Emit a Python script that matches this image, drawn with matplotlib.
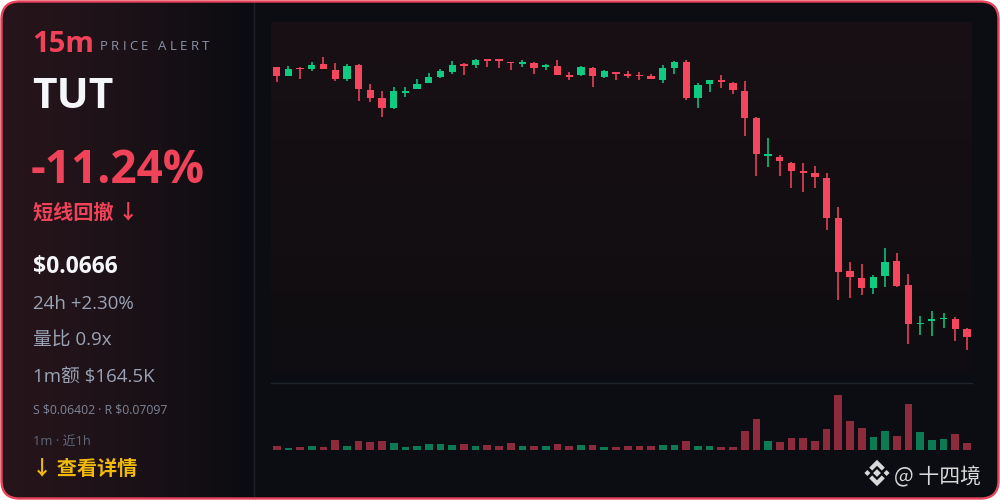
import numpy as np
import matplotlib
matplotlib.use("Agg")
import matplotlib.pyplot as plt
from matplotlib.patches import FancyBboxPatch, Polygon

# 1m candles, last hour (prices in USDT)
opens = [0.08007, 0.07964, 0.08002, 0.08000, 0.08022, 0.07994, 0.07947, 0.08017, 0.07894, 0.07852,
         0.07802, 0.07880, 0.07898, 0.07927, 0.07960, 0.07985, 0.08019, 0.08017, 0.08047, 0.08044,
         0.08032, 0.08024, 0.08030, 0.08008, 0.08014, 0.07965, 0.07969, 0.08005, 0.07960, 0.07985,
         0.07969, 0.07969, 0.07964, 0.07944, 0.08005, 0.08035, 0.07852, 0.07922, 0.07945, 0.07927,
         0.07890, 0.07752, 0.07564, 0.07560, 0.07530, 0.07488, 0.07480, 0.07455, 0.07252, 0.06989,
         0.06955, 0.06905, 0.06963, 0.07038, 0.06918, 0.06722, 0.06738, 0.06747, 0.06749, 0.06699]
highs = [0.08008, 0.08014, 0.08010, 0.08032, 0.08057, 0.08027, 0.08024, 0.08024, 0.07924, 0.07890,
         0.07907, 0.07907, 0.07947, 0.07977, 0.07999, 0.08039, 0.08030, 0.08047, 0.08047, 0.08047,
         0.08032, 0.08044, 0.08032, 0.08024, 0.08044, 0.07985, 0.08012, 0.08008, 0.07994, 0.07985,
         0.07989, 0.07985, 0.07975, 0.08019, 0.08039, 0.08045, 0.07928, 0.07944, 0.07969, 0.07932,
         0.07938, 0.07757, 0.07655, 0.07569, 0.07532, 0.07527, 0.07514, 0.07480, 0.07307, 0.07032,
         0.07024, 0.06969, 0.07104, 0.07080, 0.06973, 0.06765, 0.06789, 0.06779, 0.06757, 0.06705]
lows = [0.07932, 0.07961, 0.07947, 0.07987, 0.07996, 0.07940, 0.07940, 0.07840, 0.07832, 0.07760,
        0.07801, 0.07857, 0.07897, 0.07926, 0.07952, 0.07973, 0.07968, 0.08002, 0.08007, 0.08002,
        0.07994, 0.08007, 0.07972, 0.07994, 0.07967, 0.07944, 0.07965, 0.07910, 0.07955, 0.07944,
        0.07952, 0.07944, 0.07946, 0.07927, 0.07972, 0.07845, 0.07805, 0.07885, 0.07902, 0.07875,
        0.07665, 0.07465, 0.07510, 0.07465, 0.07405, 0.07382, 0.07405, 0.07194, 0.06844, 0.06852,
        0.06869, 0.06874, 0.06907, 0.06907, 0.06622, 0.06668, 0.06665, 0.06702, 0.06639, 0.06594]
closes = [0.07964, 0.07997, 0.07997, 0.08020, 0.07998, 0.07947, 0.08014, 0.07900, 0.07855, 0.07802,
          0.07890, 0.07885, 0.07923, 0.07957, 0.07990, 0.08019, 0.08014, 0.08044, 0.08040, 0.08039,
          0.08027, 0.08027, 0.08005, 0.08014, 0.07969, 0.07960, 0.08007, 0.07964, 0.07989, 0.07975,
          0.07964, 0.07962, 0.07947, 0.08005, 0.08032, 0.07852, 0.07918, 0.07942, 0.07935, 0.07894,
          0.07752, 0.07572, 0.07569, 0.07539, 0.07490, 0.07480, 0.07457, 0.07252, 0.06985, 0.06957,
          0.06905, 0.06960, 0.07035, 0.06913, 0.06722, 0.06730, 0.06747, 0.06754, 0.06697, 0.06660]
# quote volume per candle, $K
volumes = [94, 47, 71, 94, 71, 242, 87, 212, 181, 212,
           157, 78, 94, 141, 141, 118, 134, 94, 110, 87,
           157, 87, 94, 87, 148, 94, 118, 110, 71, 71,
           87, 87, 94, 118, 110, 212, 87, 94, 71, 63,
           454, 721, 212, 195, 289, 289, 204, 486, 1293, 682,
           510, 306, 447, 329, 1081, 423, 235, 251, 369, 165]

UP = "#0ecb81"
DOWN = "#f6465d"
VOL_UP = "#0c7a53"
VOL_DOWN = "#8d2b3c"
RED_TXT = "#f0435a"
GREY = "#9aa3b5"
FONTS = ["Open Sans", "Noto Sans CJK SC", "DejaVu Sans"]
CJK = ["Noto Sans CJK SC", "DejaVu Sans"]

fig = plt.figure(figsize=(10, 5), dpi=100, facecolor="white")
bg = fig.add_axes([0, 0, 1, 1])
bg.axis("off")

card = FancyBboxPatch((1.5, 1.5), 997, 497, boxstyle="round,pad=0,rounding_size=18",
                      fc="#0b0d12", ec="none", zorder=0)
bg.add_patch(card)

# left panel gradient (reddish -> dark)
tx = np.linspace(0, 1, 256) ** 1.4
c0 = np.array([38, 21, 27]) / 255
c1 = np.array([10, 12, 17]) / 255
grad = c0[None, None, :] * (1 - tx)[None, :, None] + c1[None, None, :] * tx[None, :, None]
grad = np.repeat(grad, 4, axis=0)
im = bg.imshow(grad, extent=(0, 253, 500, 0), aspect="auto", interpolation="bilinear", zorder=1)
im.set_clip_path(card)

# chart area background
ty = np.linspace(0, 1, 128)
t0 = np.array([24, 16, 20]) / 255
t1 = np.array([15, 13, 17]) / 255
cgrad = t0[None, :] * (1 - ty)[:, None] + t1[None, :] * ty[:, None]
cgrad = np.repeat(cgrad[:, None, :], 4, axis=1)
bg.imshow(cgrad, extent=(271, 972, 372, 22), aspect="auto", interpolation="bilinear", zorder=1)

bg.plot([253.5, 253.5], [2, 498], color="#1d2129", lw=1, zorder=2)

border = FancyBboxPatch((1.5, 1.5), 997, 497, boxstyle="round,pad=0,rounding_size=18",
                        fc="none", ec="#e8435a", lw=1.7, zorder=10)
bg.add_patch(border)

bg.set_xlim(0, 1000)
bg.set_ylim(500, 0)


def label(x, y, s, size, color, family=FONTS, bold=False):
    return bg.text(x, y, s, color=color, fontsize=size, family=family,
                   fontweight="bold" if bold else "normal", va="baseline",
                   parse_math=False, zorder=5)


def spaced(x, y, s, gap, space_w, size, color):
    r = fig.canvas.get_renderer()
    for ch in s:
        if ch == " ":
            x += space_w
            continue
        t = label(x, y, ch, size, color)
        x += t.get_window_extent(r).width + gap


# left panel texts
label(32, 52, "15m", 21, RED_TXT, bold=True)
spaced(100, 50.5, "PRICE ALERT", 3.3, 6.5, 9.5, "#8a93a6")
label(32, 108, "TUT", 30.5, "#f4f6f9", bold=True)
label(31, 183, "-11.24%", 33, RED_TXT, bold=True)
label(33, 219, "短线回撤 ↓", 14.5, RED_TXT, family=CJK, bold=True)
label(33, 273, "$0.0666", 16.5, "#f4f6f9", bold=True)
label(33, 309, "24h +2.30%", 13.5, GREY)
label(33, 346, "量比 0.9x", 13.5, GREY)
label(33, 382, "1m额 $164.5K", 13.5, GREY)
label(33, 414, "S $0.06402 · R $0.07097", 8.8, "#7d8597")
label(33, 445, "1m · 近1h", 9.3, "#5f677a")
label(32, 475, "↓ 查看详情", 14.5, "#f0b90b", family=CJK, bold=True)

# watermark: logo + handle
cx, cy, u = 877, 473, 3.0
logo_col = "#d9d9d9"
shapes = [
    [(0, -1.3), (1.3, 0), (0, 1.3), (-1.3, 0)],
    [(-3.2, -1.0), (-2.2, 0), (-3.2, 1.0), (-4.2, 0)],
    [(3.2, -1.0), (4.2, 0), (3.2, 1.0), (2.2, 0)],
    [(0, -4.4), (2.6, -1.8), (1.6, -0.8), (0, -2.4), (-1.6, -0.8), (-2.6, -1.8)],
    [(0, 4.4), (2.6, 1.8), (1.6, 0.8), (0, 2.4), (-1.6, 0.8), (-2.6, 1.8)],
]
for pts in shapes:
    bg.add_patch(Polygon([(cx + px * u, cy + py * u) for px, py in pts], closed=True,
                         fc=logo_col, ec="none", zorder=6))
label(894, 483, "@ 十四境", 15, logo_col, family=CJK)

bg.set_xlim(0, 1000)
bg.set_ylim(500, 0)

# candles
x = np.arange(len(opens))
ax = fig.add_axes([0.271, 1 - 372 / 500, 0.701, 350 / 500])
ax.set_facecolor("none")
ax.axis("off")
for i in x:
    o, h, l, c = opens[i], highs[i], lows[i], closes[i]
    col = UP if c >= o else DOWN
    ax.vlines(i, l, h, color=col, lw=1.1)
    body = max(abs(c - o), 0.00008)
    ax.bar(i, body, bottom=min(o, c), width=0.62, color=col, lw=0)
ax.set_xlim(-0.487, 59.43)
ax.set_ylim(0.064835, 0.082335)

# volume
axv = fig.add_axes([0.271, 0.1, 0.701, 67 / 500])
axv.set_facecolor("none")
vcols = [VOL_UP if closes[i] >= opens[i] else VOL_DOWN for i in x]
axv.bar(x, volumes, width=0.66, color=vcols, lw=0)
axv.set_xlim(-0.487, 59.43)
axv.set_ylim(0, max(volumes) * 67 / 55)
axv.set_xticks([])
axv.set_yticks([])
for side in ["left", "right", "bottom"]:
    axv.spines[side].set_visible(False)
axv.spines["top"].set_color("#1f252b")
axv.spines["top"].set_linewidth(1)

fig.savefig("out.png", dpi=100, facecolor="white")
